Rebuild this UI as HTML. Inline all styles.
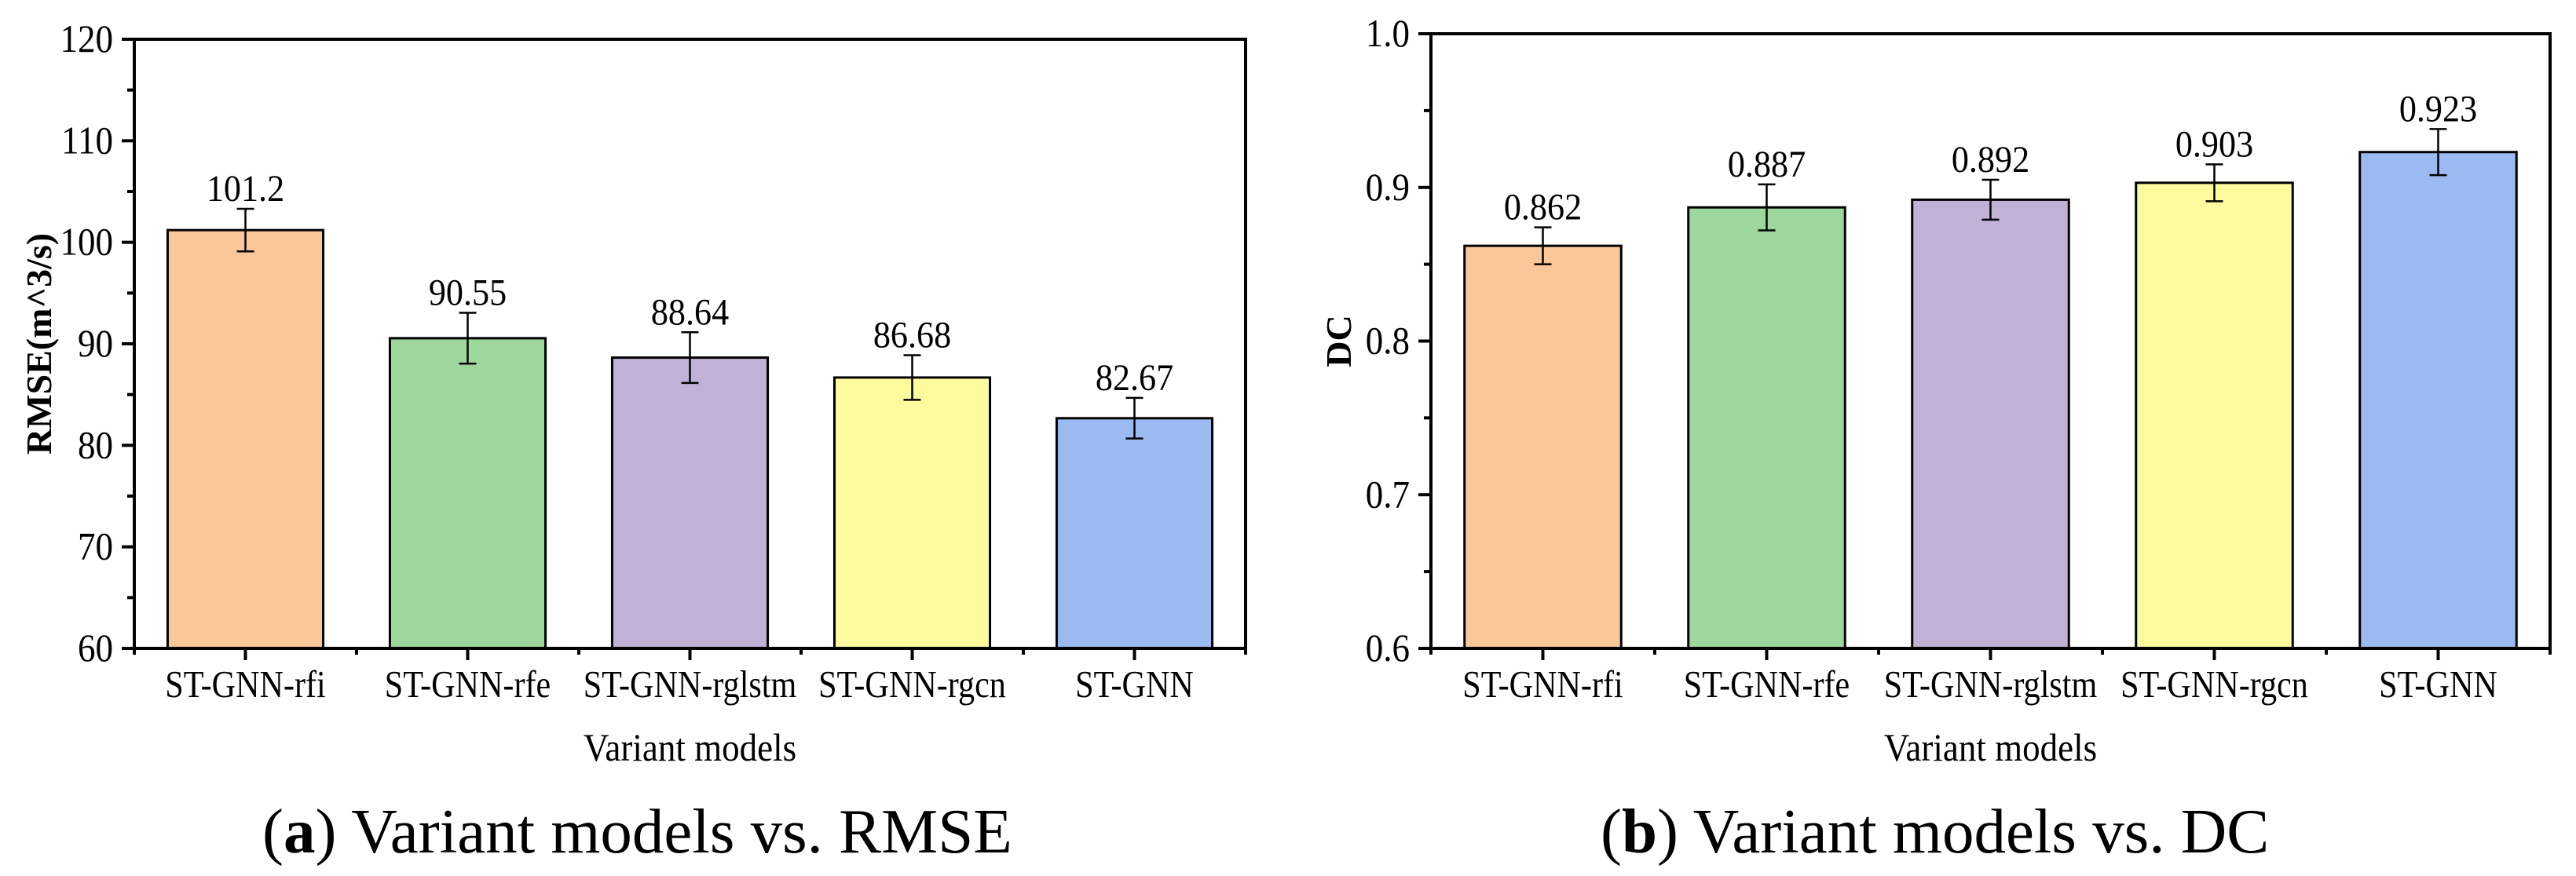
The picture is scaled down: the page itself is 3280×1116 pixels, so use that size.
<!DOCTYPE html>
<html><head><meta charset="utf-8"><style>
html,body{margin:0;padding:0;background:#fff;}
svg{display:block;}
text{font-family:"Liberation Serif","Times New Roman",serif;fill:#000;}
</style></head>
<body>
<svg id="fig" width="3280" height="1116" viewBox="0 0 3280 1116" xmlns="http://www.w3.org/2000/svg">
<text x="334" y="1086" font-size="81"><tspan>(</tspan><tspan font-weight="bold">a</tspan><tspan>) Variant models vs. RMSE</tspan></text>
<text x="2038" y="1086" font-size="81"><tspan>(</tspan><tspan font-weight="bold">b</tspan><tspan>) Variant models vs. DC</tspan></text>
</svg>
<script>
const categories = ["ST-GNN-rfi","ST-GNN-rfe","ST-GNN-rglstm","ST-GNN-rgcn","ST-GNN"];
const rmseValues = [101.2, 90.55, 88.64, 86.68, 82.67];
const rmseErrors = [2.1, 2.5, 2.5, 2.2, 2.0];
const rmseLabels = ["101.2","90.55","88.64","86.68","82.67"];
const rmseTicks = [60,70,80,90,100,110,120];
const dcValues = [0.862, 0.887, 0.892, 0.903, 0.923];
const dcErrors = [0.012, 0.015, 0.013, 0.012, 0.015];
const dcLabels = ["0.862","0.887","0.892","0.903","0.923"];
const dcTicks = [0.6,0.7,0.8,0.9,1.0];
const dcTickLabels = ["0.6","0.7","0.8","0.9","1.0"];
const barColors = ["#FAC898","#9ED79B","#C2B1D6","#FEFB9E","#9CBAF2"];

const NS = "http://www.w3.org/2000/svg";
const svg = document.getElementById("fig");
function mk(tag, attrs, parent){
  const e = document.createElementNS(NS, tag);
  for (const k in attrs) e.setAttribute(k, attrs[k]);
  (parent||svg).appendChild(e);
  return e;
}
function squeeze(t, f){
  const w = t.getComputedTextLength();
  if (w > 0) { t.setAttribute("textLength", w * f); t.setAttribute("lengthAdjust", "spacingAndGlyphs"); }
}

function drawChart(cfg){
  const g = mk("g", {});
  
  
  const {x0,x1,y0,y1,ymin,ymax} = cfg;
  const yScale = v => y1 - (v - ymin) / (ymax - ymin) * (y1 - y0);
  const n = categories.length;
  const step = (x1 - x0) / n;
  const xCenter = i => x0 + step * (i + 0.5);
  const bw = step * 0.7;

  cfg.values.forEach((v, i) => {
    const r = mk("rect", {x: xCenter(i) - bw/2, y: yScale(v), width: bw, height: y1 - yScale(v), fill: barColors[i], stroke: "#000", "stroke-width": 3}, g);
    
    
  });
  cfg.values.forEach((v, i) => {
    const cx = xCenter(i);
    const top = yScale(v + cfg.errors[i]), bot = yScale(v - cfg.errors[i]);
    const eg = mk("g", {stroke: "#000", "stroke-width": 2.5}, g);
    
    
    mk("line", {x1: cx, x2: cx, y1: top, y2: bot}, eg);
    mk("line", {x1: cx - 11, x2: cx + 11, y1: top, y2: top}, eg);
    mk("line", {x1: cx - 11, x2: cx + 11, y1: bot, y2: bot}, eg);
    const t = mk("text", {x: cx, y: top - 10, "font-size": 48, "text-anchor": "middle"}, g);
    t.textContent = cfg.labels[i];
    
    
    squeeze(t, 0.92);
  });
  const fr = mk("rect", {x: x0, y: y0, width: x1 - x0, height: y1 - y0, fill: "none", stroke: "#000", "stroke-width": 4}, g);
  
  
  const yax = mk("g", {}, g);
  
  
  cfg.ticks.forEach((tv, i) => {
    const y = yScale(tv);
    mk("line", {x1: x0 - 16, x2: x0, y1: y, y2: y, stroke: "#000", "stroke-width": 4}, yax);
    const t = mk("text", {x: x0 - 27, y: y + 16, "font-size": 50, "text-anchor": "end"}, yax);
    t.textContent = cfg.tickLabels[i];
    
    
    squeeze(t, 0.9);
    if (i < cfg.ticks.length - 1) {
      const ym = yScale((tv + cfg.ticks[i+1]) / 2);
      mk("line", {x1: x0 - 9, x2: x0, y1: ym, y2: ym, stroke: "#000", "stroke-width": 4}, yax);
    }
  });
  const xax = mk("g", {}, g);
  
  
  for (let i = 0; i <= n; i++) {
    const x = x0 + step * i;
    mk("line", {x1: x, x2: x, y1: y1, y2: y1 + 8, stroke: "#000", "stroke-width": 4}, xax);
  }
  categories.forEach((c, i) => {
    const cx = xCenter(i);
    mk("line", {x1: cx, x2: cx, y1: y1, y2: y1 + 15, stroke: "#000", "stroke-width": 4}, xax);
    const t = mk("text", {x: cx, y: 888, "font-size": 49, "text-anchor": "middle"}, xax);
    t.textContent = c;
    
    
    squeeze(t, 0.86);
  });
  const xt = mk("text", {x: (x0 + x1) / 2, y: 969, "font-size": 50, "text-anchor": "middle"}, g);
  xt.textContent = "Variant models";
  
  
  squeeze(t = xt, 0.9);
  const yt = mk("text", {x: 0, y: 0, "font-size": 46, "font-weight": "bold", "text-anchor": "middle",
    transform: "translate(" + cfg.ytx + "," + ((y0 + y1) / 2) + ") rotate(-90)"}, g);
  yt.textContent = cfg.ytitle;
  
  
}
var t;
drawChart({name: "rmse-chart", x0: 171, x1: 1586, y0: 50, y1: 826, ymin: 60, ymax: 120,
  values: rmseValues, errors: rmseErrors, labels: rmseLabels,
  ticks: rmseTicks, tickLabels: rmseTicks.map(String), ytitle: "RMSE(m^3/s)", ytx: 65});
drawChart({name: "dc-chart", x0: 1822, x1: 3247, y0: 43, y1: 826, ymin: 0.6, ymax: 1.0,
  values: dcValues, errors: dcErrors, labels: dcLabels,
  ticks: dcTicks, tickLabels: dcTickLabels, ytitle: "DC", ytx: 1720});
</script>
</body></html>
